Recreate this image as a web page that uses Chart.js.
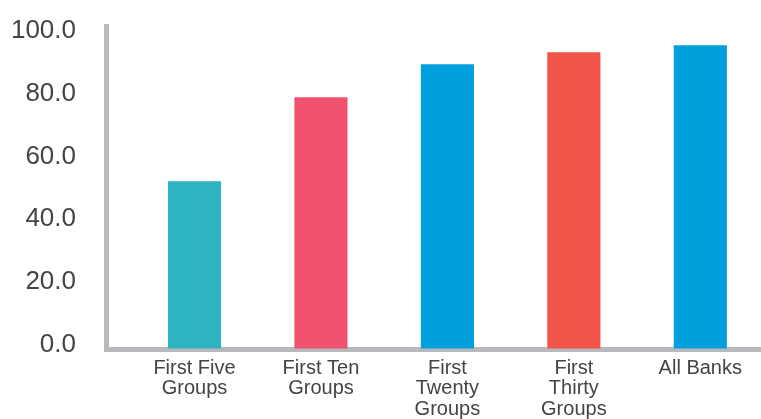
<!DOCTYPE html>
<html>
<head>
<meta charset="utf-8">
<script src="https://cdn.jsdelivr.net/npm/chart.js@4.4.1/dist/chart.umd.min.js"></script>
<style>
  html, body { margin: 0; padding: 0; background: #fff; }
  #wrap { width: 761px; height: 419px; }
</style>
</head>
<body>
<div id="wrap"><canvas id="grafico"></canvas></div>
<script>
// Datos del gráfico
const categorias = [
    ['First Five', 'Groups'],
    ['First Ten', 'Groups'],
    ['First', 'Twenty', 'Groups'],
    ['First', 'Thirty', 'Groups'],
    ['All Banks']
];
const valores = [53.5, 80.3, 90.8, 94.6, 96.9];
const colores = ['#2EB3C0', '#F0526E', '#00A0DF', '#F05347', '#00A0DF'];
const ticksY = [0, 20, 40, 60, 80, 100];

const puntos = valores.map((v, i) => ({ x: i, y: v }));

const ctx = document.getElementById('grafico').getContext('2d');
const grafico = new Chart(ctx, {
    type: 'bar',
    data: {
        datasets: [{
            data: puntos,
            backgroundColor: colores,
            borderWidth: 0,
            categoryPercentage: 1,
            barPercentage: 0.42
        }]
    },
    options: {
        responsive: true,
        maintainAspectRatio: false,
        animation: false,
        layout: { padding: { top: 26, right: 0, left: 0, bottom: 0 } },
        plugins: {
            legend: { display: false },
            tooltip: { enabled: false }
        },
        scales: {
            x: {
                type: 'linear',
                offset: false,
                min: -0.7,
                max: 4.48,
                grid: { display: false, drawTicks: false, offset: false },
                border: { display: true, color: '#B8B9BD', width: 5 },
                afterBuildTicks: scale => {
                    scale.ticks = categorias.map((_, i) => ({ value: i }));
                },
                afterFit: scale => { scale.height = 70; },
                ticks: {
                    padding: 9,
                    color: '#444444',
                    font: { family: 'Liberation Sans', size: 20, lineHeight: 1.03 },
                    maxRotation: 0,
                    autoSkip: false,
                    callback: value => categorias[value] || ''
                }
            },
            y: {
                min: 0,
                max: 103,
                // marcas invisibles para separar las etiquetas del eje
                grid: {
                    display: true,
                    drawOnChartArea: false,
                    drawTicks: true,
                    tickLength: 28,
                    color: 'rgba(0,0,0,0)',
                    tickColor: 'rgba(0,0,0,0)'
                },
                border: { display: true, color: '#B8B9BD', width: 5 },
                afterBuildTicks: scale => {
                    scale.ticks = ticksY.map(v => ({ value: v }));
                },
                afterFit: scale => { scale.width = 106; },
                ticks: {
                    padding: 2,
                    labelOffset: -4.5,
                    color: '#444444',
                    font: { family: 'Liberation Sans', size: 26 },
                    callback: value => value.toFixed(1)
                }
            }
        }
    }
});
</script>
</body>
</html>
